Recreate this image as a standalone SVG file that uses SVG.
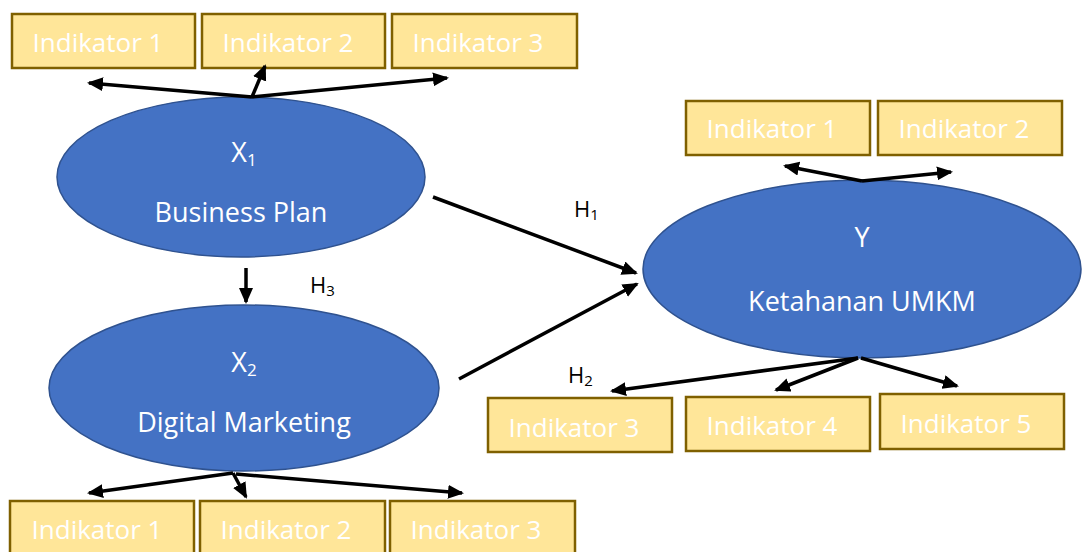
<svg xmlns="http://www.w3.org/2000/svg" width="1089" height="552" viewBox="0 0 1089 552">
<style>
.box{fill:#FFE699;stroke:#7F6000;stroke-width:2.5}
.bt{font-family:"Open Sans","Noto Sans",sans-serif;font-size:26px;fill:#FFFFFF;text-anchor:middle}
.ell{fill:#4472C4;stroke:#2F528F;stroke-width:1.5}
.et{font-family:"Open Sans","Noto Sans",sans-serif;font-size:27px;fill:#FFFFFF;text-anchor:middle}
.sub{font-size:17px}
.h{font-family:"Open Sans","Noto Sans",sans-serif;font-size:22px;fill:#000000}
.hs{font-size:15px}
.c{stroke:#000000;stroke-width:3.5;fill:none;marker-end:url(#ah)}
</style>
<defs>
<marker id="ah" markerUnits="userSpaceOnUse" markerWidth="18" markerHeight="16" refX="14" refY="7" orient="auto">
<path d="M0,0 L16,7 L0,14 Z" fill="#000000"/>
</marker>
</defs>
<rect width="1089" height="552" fill="#FFFFFF"/>

<g id="x1-indikator-1"><rect class="box" x="12" y="14" width="183" height="54"/><text class="bt" x="98" y="52">Indikator 1</text></g>
<g id="x1-indikator-2"><rect class="box" x="202" y="14" width="183" height="54"/><text class="bt" x="288" y="52">Indikator 2</text></g>
<g id="x1-indikator-3"><rect class="box" x="392" y="14" width="185" height="54"/><text class="bt" x="478" y="52">Indikator 3</text></g>

<g id="x1"><ellipse class="ell" cx="241" cy="177" rx="184" ry="80"/>
<text class="et" x="244" y="162">X<tspan class="sub" dy="4">1</tspan></text>
<text class="et" x="241" y="222">Business Plan</text></g>

<g id="x2"><ellipse class="ell" cx="244" cy="388" rx="195" ry="83"/>
<text class="et" x="244" y="372">X<tspan class="sub" dy="4">2</tspan></text>
<text class="et" x="244" y="432">Digital Marketing</text></g>

<g id="x2-indikator-1"><rect class="box" x="10" y="501" width="184" height="60"/><text class="bt" x="97" y="539">Indikator 1</text></g>
<g id="x2-indikator-2"><rect class="box" x="200" y="501" width="185" height="60"/><text class="bt" x="286" y="539">Indikator 2</text></g>
<g id="x2-indikator-3"><rect class="box" x="390" y="501" width="185" height="60"/><text class="bt" x="476" y="539">Indikator 3</text></g>

<g id="y"><ellipse class="ell" cx="862" cy="269" rx="219" ry="89"/>
<text class="et" x="862" y="247">Y</text>
<text class="et" x="862" y="311">Ketahanan UMKM</text></g>

<g id="y-indikator-1"><rect class="box" x="686" y="101" width="184" height="54"/><text class="bt" x="772" y="138">Indikator 1</text></g>
<g id="y-indikator-2"><rect class="box" x="878" y="101" width="184" height="54"/><text class="bt" x="964" y="138">Indikator 2</text></g>
<g id="y-indikator-3"><rect class="box" x="488" y="398" width="184" height="54"/><text class="bt" x="574" y="437">Indikator 3</text></g>
<g id="y-indikator-4"><rect class="box" x="686" y="397" width="184" height="54"/><text class="bt" x="772" y="435">Indikator 4</text></g>
<g id="y-indikator-5"><rect class="box" x="880" y="394" width="184" height="55"/><text class="bt" x="966" y="433">Indikator 5</text></g>

<g id="connectors">
<line class="c" x1="252" y1="97" x2="89" y2="83"/>
<line class="c" x1="252" y1="97" x2="265" y2="66"/>
<line class="c" x1="252" y1="97" x2="447" y2="78"/>
<line class="c" x1="246" y1="268" x2="246" y2="302"/>
<line class="c" x1="433" y1="197" x2="636" y2="273"/>
<line class="c" x1="459" y1="379" x2="637" y2="284"/>
<line class="c" x1="233" y1="473" x2="89" y2="493"/>
<line class="c" x1="233" y1="473" x2="246" y2="497"/>
<line class="c" x1="236" y1="474" x2="462" y2="493"/>
<line class="c" x1="862" y1="181" x2="785" y2="166"/>
<line class="c" x1="862" y1="181" x2="951" y2="172"/>
<line class="c" x1="858" y1="358" x2="612" y2="391"/>
<line class="c" x1="858" y1="358" x2="776" y2="390"/>
<line class="c" x1="861" y1="358" x2="957" y2="386"/>
</g>

<g id="labels">
<text class="h" x="574" y="217">H<tspan class="hs" dy="3">1</tspan></text>
<text class="h" x="568" y="383">H<tspan class="hs" dy="3">2</tspan></text>
<text class="h" x="310" y="293">H<tspan class="hs" dy="3">3</tspan></text>
</g>
</svg>
